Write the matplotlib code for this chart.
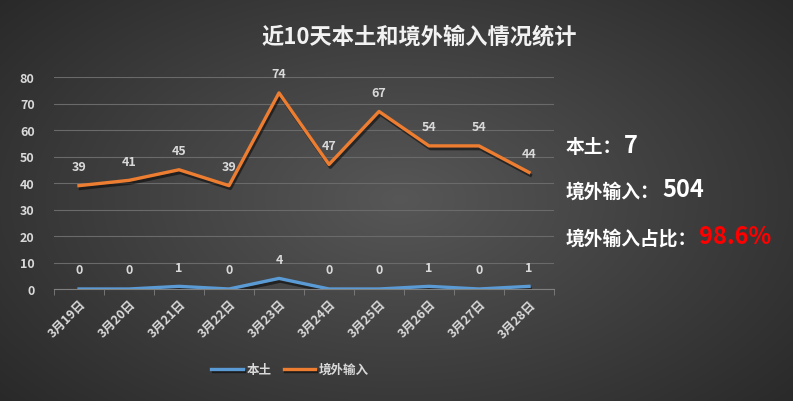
import numpy as np
import matplotlib
matplotlib.use('Agg')
import matplotlib.pyplot as plt
import matplotlib.patheffects as pe

plt.rcParams['font.family'] = ['Noto Sans CJK SC', 'DejaVu Sans']

# 数据
dates = ['3月19日', '3月20日', '3月21日', '3月22日', '3月23日',
         '3月24日', '3月25日', '3月26日', '3月27日', '3月28日']
local = [0, 0, 1, 0, 4, 0, 0, 1, 0, 1]
imported = [39, 41, 45, 39, 74, 47, 67, 54, 54, 44]
yticks = [0, 10, 20, 30, 40, 50, 60, 70, 80]

fig = plt.figure(figsize=(7.93, 4.02), dpi=100)

# 背景径向渐变
bg = fig.add_axes([0, 0, 1, 1])
yy, xx = np.mgrid[0:402, 0:793]
r = np.sqrt(((xx - 400) / 560.0) ** 2 + ((yy - 200) / 330.0) ** 2)
val = np.clip(0.34 - 0.19 * r, 0.15, 0.34)
bg.imshow(np.dstack([val, val, val]), aspect='auto', extent=[0, 1, 0, 1])
bg.axis('off')

L, R = 54, 554
ax = fig.add_axes([L / 793, 1 - 290 / 402, (R - L) / 793, 212 / 402])
ax.patch.set_alpha(0)
x = np.arange(len(dates))
shadow = [pe.SimpleLineShadow(offset=(1, -2), alpha=0.5), pe.Normal()]
ax.plot(x, local, color='#5B9BD5', lw=2.4, label='本土', path_effects=shadow)
ax.plot(x, imported, color='#ED7D31', lw=2.4, label='境外输入', path_effects=shadow)

for i in range(len(dates)):
    ax.annotate(str(local[i]), (x[i], local[i]), xytext=(0, 9), textcoords='offset points',
                ha='center', va='bottom', color='#d9d9d9', fontsize=9, fontweight='bold')
    ax.annotate(str(imported[i]), (x[i], imported[i]), xytext=(0, 9), textcoords='offset points',
                ha='center', va='bottom', color='#d9d9d9', fontsize=9, fontweight='bold')

ax.set_xlim(-0.5, len(dates) - 0.5)
ax.set_ylim(0, 80)
ax.set_yticks(yticks)
ax.set_xticks(x)
ax.set_xticklabels(dates, rotation=45, ha='right', rotation_mode='anchor', fontweight='bold')
ax.set_yticklabels([str(v) for v in yticks], fontweight='bold')
ax.set_xticks(np.arange(-0.5, len(dates)), minor=True)
ax.tick_params(axis='x', which='major', length=0, colors='#d9d9d9', labelsize=9, pad=6)
ax.tick_params(axis='x', which='minor', length=4, color='#7f7f7f')
ax.tick_params(axis='y', length=0, colors='#d9d9d9', labelsize=9, pad=14)
ax.grid(axis='y', color='#6a6a6a', lw=0.8)
ax.set_axisbelow(True)
for s in ['top', 'right', 'left']:
    ax.spines[s].set_visible(False)
ax.spines['bottom'].set_color('#7f7f7f')

leg = ax.legend(loc='center', bbox_to_anchor=((290 - L) / (R - L), -0.38), ncol=2, frameon=False,
                fontsize=9, handlelength=2.5, columnspacing=1.0, handletextpad=0.3)
for t in leg.get_texts():
    t.set_color('#d9d9d9')
    t.set_fontweight('bold')

fig.text(419 / 793, 1 - 37 / 402, '近10天本土和境外输入情况统计', ha='center', va='center',
         color='#f2f2f2', fontsize=16, fontweight='bold')

fig.text(566 / 793, 1 - 148 / 402, '本土：', ha='left', va='center', color='white',
         fontsize=13.5, fontweight='bold')
fig.text(624 / 793, 1 - 146 / 402, '7', ha='left', va='center', color='white',
         fontsize=17, fontweight='bold')
fig.text(566 / 793, 1 - 192 / 402, '境外输入：', ha='left', va='center', color='white',
         fontsize=13.5, fontweight='bold')
fig.text(662 / 793, 1 - 190 / 402, '504', ha='left', va='center', color='white',
         fontsize=17, fontweight='bold')
fig.text(566 / 793, 1 - 239 / 402, '境外输入占比：', ha='left', va='center', color='white',
         fontsize=13.5, fontweight='bold')
fig.text(699 / 793, 1 - 237 / 402, '98.6%', ha='left', va='center', color='#ff0000',
         fontsize=17, fontweight='bold')

fig.savefig('out.png', dpi=100)
